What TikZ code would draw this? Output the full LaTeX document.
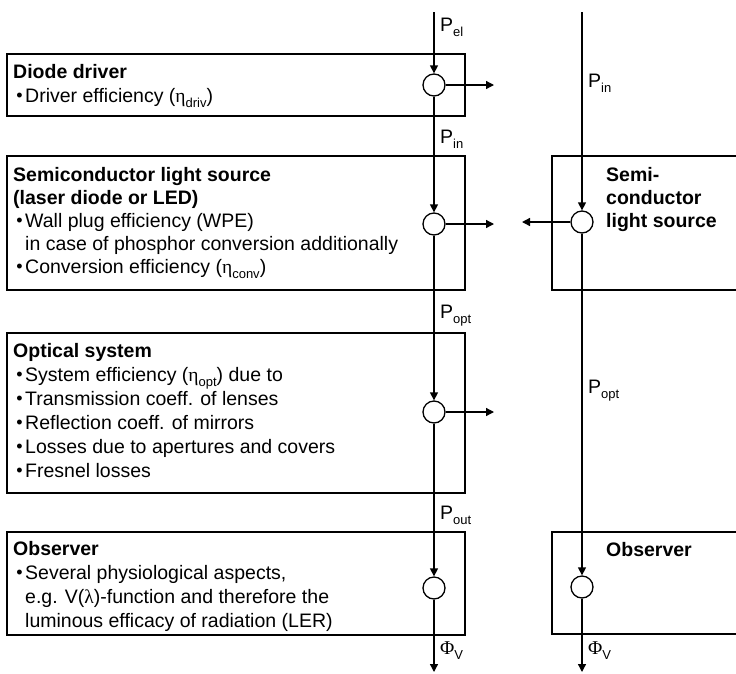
\documentclass[tikz,border=0pt]{standalone}
\usepackage{fontspec}
\setmainfont{Liberation Sans}
\newfontfamily\grk{Liberation Serif}
\usetikzlibrary{arrows.meta}
\newcommand\sub[1]{\raisebox{-5pt}{\fontsize{13}{13}\selectfont #1}}
\newcommand\bul{\llap{\raisebox{0.5pt}{\fontsize{18}{18}\selectfont•}\hspace{2.5pt}}}
\begin{document}
\begin{tikzpicture}[x=1pt,y=-1pt,
  boxline/.style={line width=1.3pt},
  box/.style={draw, line width=1.3pt, rectangle, anchor=north west, inner sep=0pt, outer sep=0pt},
  flow/.style={line width=1.3pt, -{Triangle[length=8pt,width=8pt]}},
  junc/.style={circle, draw, line width=1.3pt, minimum size=22pt, inner sep=0pt, fill=white},
  txt/.style={anchor=base west, inner sep=0pt, font=\fontsize{19.5}{24}\selectfont},
  ttl/.style={anchor=base west, inner sep=0pt, font=\fontsize{19.5}{24}\selectfont\bfseries},
  lbl/.style={anchor=west, inner sep=0pt, font=\fontsize{19.5}{24}\selectfont}]
\useasboundingbox (0,0) rectangle (736,673);

% left boxes
\node[box, minimum width=458pt, minimum height=62pt] (b1) at (7,54) {};
\node[box, minimum width=458pt, minimum height=134pt] (b2) at (7,156) {};
\node[box, minimum width=458pt, minimum height=160pt] (b3) at (7,333) {};
\node[box, minimum width=458pt, minimum height=103pt] (b4) at (7,532) {};

% right open boxes
\coordinate (r1a) at (736,156); \coordinate (r1b) at (552,290); \coordinate (r1c) at (736,290);
\draw[boxline] (r1a) -| (r1b) -- (r1c);
\coordinate (r2a) at (736,532); \coordinate (r2b) at (552,634); \coordinate (r2c) at (736,634);
\draw[boxline] (r2a) -| (r2b) -- (r2c);

% texts box 1
\node[ttl] (t11) at (13,78) {Diode driver};
\node[txt] (t12) at (25,102) {\bul Driver efficiency ({\grk η}\sub{driv})};
% box 2
\node[ttl] (t21) at (13,181) {Semiconductor light source};
\node[ttl] (t22) at (13,204) {(laser diode or LED)};
\node[txt] (t23) at (25,227) {\bul Wall plug efficiency (WPE)};
\node[txt] (t24) at (25,250) {in case of phosphor conversion additionally};
\node[txt] (t25) at (25,273) {\bul Conversion efficiency ({\grk η}\sub{conv})};
% box 3
\node[ttl] (t31) at (13,357) {Optical system};
\node[txt] (t32) at (25,381) {\bul System efficiency ({\grk η}\sub{opt}) due to};
\node[txt] (t33) at (25,405) {\bul Transmission coeff. of lenses};
\node[txt] (t34) at (25,429) {\bul Reflection coeff. of mirrors};
\node[txt] (t35) at (25,453) {\bul Losses due to apertures and covers};
\node[txt] (t36) at (25,477) {\bul Fresnel losses};
% box 4
\node[ttl] (t41) at (13,555) {Observer};
\node[txt] (t42) at (25,579) {\bul Several physiological aspects,};
\node[txt] (t43) at (25,603) {e.g. V({\grk λ})-function and therefore the};
\node[txt] (t44) at (25,627) {luminous efficacy of radiation (LER)};

% right texts
\node[ttl] (u11) at (606,181) {Semi-};
\node[ttl] (u12) at (606,204) {conductor};
\node[ttl] (u13) at (606,227) {light source};
\node[ttl] (u21) at (606,556) {Observer};

% left flow
\coordinate (s0) at (434,12);
\node[junc] (c1) at (434,85) {};
\node[junc] (c2) at (434,224) {};
\node[junc] (c3) at (434,412) {};
\node[junc] (c4) at (434,588) {};
\coordinate (e0) at (434,672);
\coordinate (o1) at (494,85);
\coordinate (o2) at (494,224);
\coordinate (o3) at (494,412);
\draw[flow] (s0) -- (c1);
\draw[flow] (c1) -- (c2);
\draw[flow] (c2) -- (c3);
\draw[flow] (c3) -- (c4);
\draw[flow] (c4) -- (e0);
\draw[flow] (c1) -- (o1);
\draw[flow] (c2) -- (o2);
\draw[flow] (c3) -- (o3);

% right flow
\coordinate (s1) at (582,12);
\node[junc] (d1) at (582,222) {};
\node[junc] (d2) at (582,587) {};
\coordinate (e1) at (582,672);
\coordinate (o4) at (522,222);
\draw[flow] (s1) -- (d1);
\draw[flow] (d1) -- (d2);
\draw[flow] (d2) -- (e1);
\draw[flow] (d1) -- (o4);

% labels
\node[lbl] (lpel) at (440,27) {P\sub{el}};
\node[lbl] (lpin) at (440,139) {P\sub{in}};
\node[lbl] (lpopt) at (440,316) {P\sub{opt}};
\node[lbl] (lpout) at (440,515) {P\sub{out}};
\node[lbl] (lphi) at (440,651) {{\grk Φ}\sub{V}};
\node[lbl] (rpin) at (588,83) {P\sub{in}};
\node[lbl] (rpopt) at (588,391) {P\sub{opt}};
\node[lbl] (rphi) at (588,651) {{\grk Φ}\sub{V}};
\end{tikzpicture}
\end{document}
